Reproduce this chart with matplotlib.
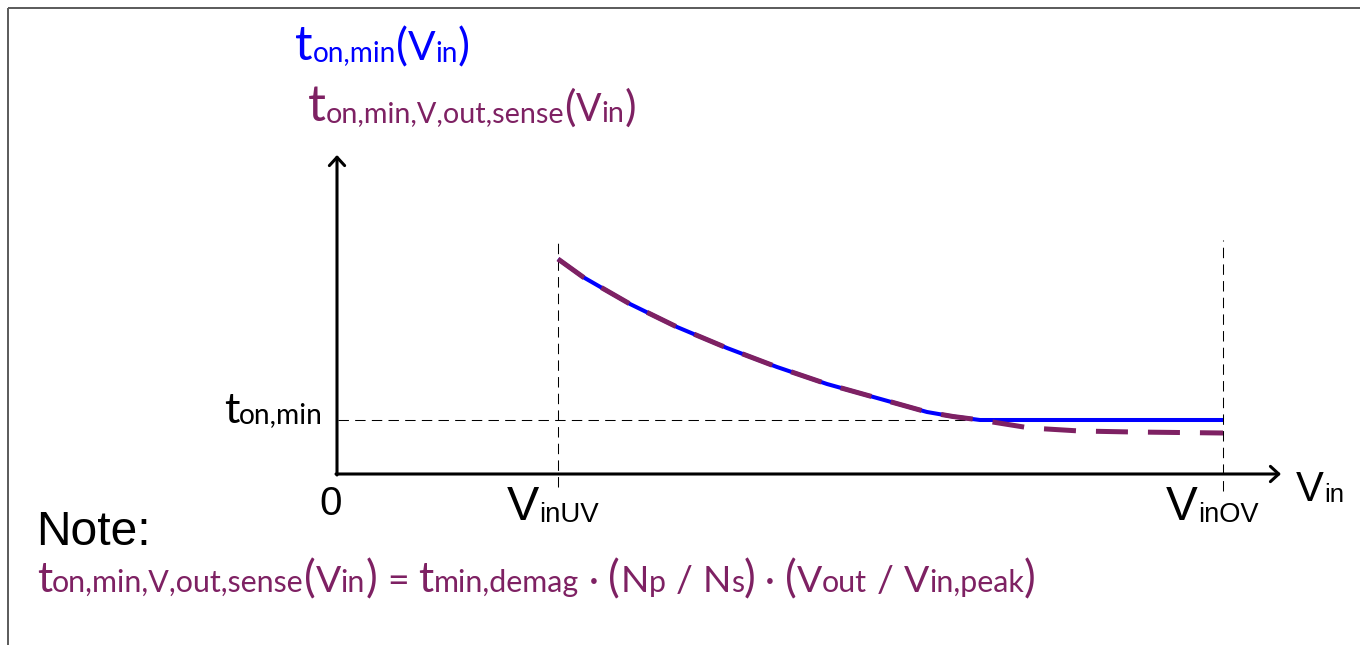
import matplotlib
matplotlib.use("Agg")
import matplotlib.pyplot as plt
from matplotlib.textpath import TextPath
from matplotlib.font_manager import FontProperties

# ---- schematic data (arbitrary units: input voltage vs. minimum on-time) ----
V_IN_UV = 221          # under-voltage threshold
V_IN_OV = 886          # over-voltage threshold
T_ON_MIN = 54          # fixed minimum on-time floor

# shared falling part of both curves (V_inUV up to the knee)
vin_curve = [221, 246, 293, 340, 390, 440, 490, 540, 590, 616, 643]
t_curve = [215, 197, 170, 147, 126, 107, 90, 76, 62, 57.5, 54]

# Vout-sense limit keeps falling past the knee
vin_tail = [693, 743, 796, 886]
t_sense_tail = [46, 43, 42, 41]

Y_AXIS_TOP = 319
X_AXIS_END = 944

BLUE = "#0000FF"
PURPLE = "#7E2163"
CAL = "Lato"
ARI = "Liberation Sans"

W, H, DPI = 1360, 645, 100
fig = plt.figure(figsize=(W / DPI, H / DPI), dpi=DPI)
fig.patch.set_facecolor("white")

# plotting axes: origin of the sketch sits at pixel (337, 474)
ax = fig.add_axes([0, 0, 1, 1])
ax.set_xlim(-337, W - 337)
ax.set_ylim(-(H - 474), 474)
ax.axis("off")

# overlay in pixel coordinates for the annotations
tax = fig.add_axes([0, 0, 1, 1], facecolor="none")
tax.set_xlim(0, W)
tax.set_ylim(H, 0)
tax.axis("off")

renderer = fig.canvas.get_renderer()


def pt_for(glyph, px, family):
    """Font size (pt) giving the glyph an ink height of `px` pixels."""
    tp = TextPath((0, 0), glyph, size=100, prop=FontProperties(family=family))
    h = tp.get_extents().height
    return px * 100 * 72 / (h * DPI)


def _run(x, y, parts, color, family, k):
    made = []
    for s, size, drop in parts:
        if s == " ":
            x += size * k
            continue
        t = tax.text(x, y + drop, s, fontsize=size * k, color=color,
                     family=family, ha="left", va="baseline")
        made.append(t)
        x += t.get_window_extent(renderer).width
    return x, made


def rich(x, y, parts, color, family, x_end=None):
    """Draw text pieces on a common baseline; optionally scaled to end at x_end."""
    k = 1.0
    if x_end is not None:
        end, made = _run(x, y, parts, color, family, 1.0)
        for t in made:
            t.remove()
        k = (x_end - x) / (end - x)
    _run(x, y, parts, color, family, k)


# ---- frame lines ----
tax.plot([8, 8], [8, H], color="#5a5a5a", lw=1.4, solid_capstyle="butt")
tax.plot([8, W], [8, 8], color="#5a5a5a", lw=1.4, solid_capstyle="butt")

# ---- guide lines ----
guide = dict(color="black", lw=0.75, ls=(0, (10, 6)))
ax.plot([V_IN_UV, V_IN_UV], [-13, 234], **guide)
ax.plot([V_IN_OV, V_IN_OV], [-17, 234], **guide)
ax.plot([1, vin_curve[-1]], [T_ON_MIN, T_ON_MIN], **guide)

# ---- axes with arrow heads ----
arrow = dict(arrowstyle="->,head_length=0.6,head_width=0.55", lw=2.2,
             color="black", shrinkA=0, shrinkB=0, mutation_scale=10)
ax.annotate("", xy=(0, Y_AXIS_TOP), xytext=(0, -1), arrowprops=arrow)
ax.annotate("", xy=(X_AXIS_END, 0), xytext=(-1, 0), arrowprops=arrow)

# ---- curves ----
ax.plot(vin_curve + [V_IN_OV], t_curve + [T_ON_MIN], color=BLUE, lw=2.9,
        solid_capstyle="butt", solid_joinstyle="round", zorder=3)
ax.plot(vin_curve + vin_tail, t_curve + t_sense_tail, color=PURPLE, lw=3.6,
        ls=(0, (6.4, 4.0)), dash_capstyle="butt", dash_joinstyle="round",
        zorder=4)

# ---- titles ----
bt, bv, bp, bs = (pt_for("t", 33, CAL), pt_for("V", 29, CAL),
                  pt_for("(", 41, CAL), pt_for("o", 14.5, CAL))
rich(295, 60, [("t", bt, 0), ("on,min", bs, 1), ("(", bp, 0), ("V", bv, 0),
               ("in", bs, 2), (")", bp, 0)], BLUE, CAL, x_end=470)

qt, qv, qp, qs = (pt_for("t", 35, CAL), pt_for("V", 28, CAL),
                  pt_for("(", 41, CAL), pt_for("o", 15.5, CAL))
rich(308, 121, [("t", qt, 0), ("on,min,V,out,sense", qs, 1), ("(", qp, 0),
                ("V", qv, 0), ("in", qs, 1), (")", qp, 0)], PURPLE, CAL,
     x_end=636)

# ---- axis labels ----
rich(224, 423, [("t", pt_for("t", 30, CAL), 0),
                ("on,min", pt_for("o", 15, CAL), 0)], "black", CAL, x_end=323)

tax.text(331, 515, "0", fontsize=pt_for("0", 28.5, ARI), family=ARI,
         ha="center", va="baseline")

av, asub = pt_for("V", 31, ARI), pt_for("U", 18, ARI)
rich(507, 520, [("V", av, 0), ("inUV", asub, 2)], "black", ARI, x_end=599)
rich(1166, 520, [("V", av, 0), ("inOV", asub, 2)], "black", ARI, x_end=1258)
rich(1296, 501, [("V", pt_for("V", 28, ARI), 0),
                 ("in", pt_for("n", 13.5, ARI), 1)], "black", ARI, x_end=1344)

# ---- note ----
tax.text(36, 545, "Note:", fontsize=pt_for("N", 33, ARI), family=ARI,
         ha="left", va="baseline")

ft, fv, fp, fs = (pt_for("t", 29, CAL), pt_for("V", 27, CAL),
                  pt_for("(", 41, CAL), pt_for("o", 16, CAL))
sp = 10
rich(37, 592, [
    ("t", ft, 0), ("on,min,V,out,sense", fs, 0), ("(", fp, 0), ("V", fv, 0),
    ("in", fs, 0), (")", fp, 0), (" ", sp, 0), ("=", fv, 0), (" ", sp, 0),
    ("t", ft, 0), ("min,demag", fs, 0), (" ", sp, 0), ("·", fv, 0),
    (" ", sp, 0), ("(", fp, 0), ("N", fv, 0), ("p", fs, 0), (" ", sp, 0),
    ("/", fv, 0), (" ", sp, 0), ("N", fv, 0), ("s", fs, 0), (")", fp, 0),
    (" ", sp, 0), ("·", fv, 0), (" ", sp, 0), ("(", fp, 0), ("V", fv, 0),
    ("out", fs, 0), (" ", sp, 0), ("/", fv, 0), (" ", sp, 0), ("V", fv, 0),
    ("in,peak", fs, 0), (")", fp, 0)], PURPLE, CAL, x_end=1036)

fig.savefig("out.png", dpi=DPI, facecolor="white")
